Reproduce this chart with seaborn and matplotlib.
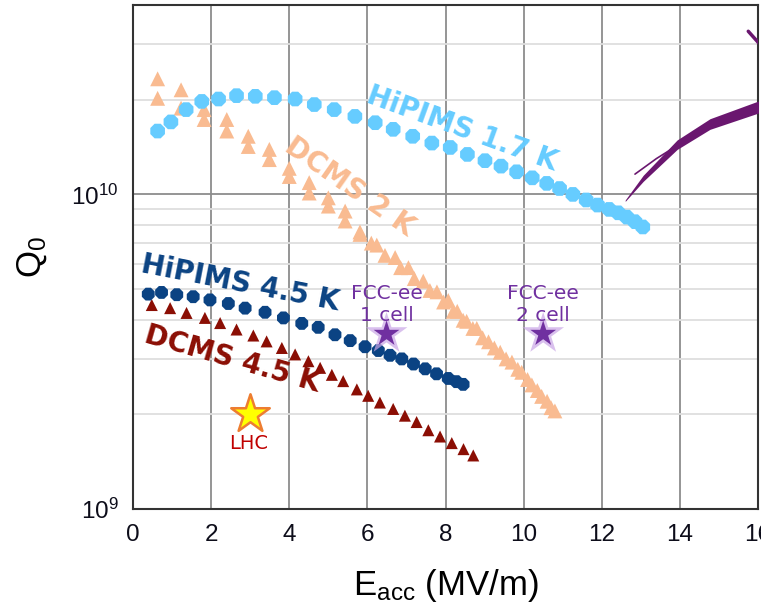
import numpy as np
import pandas as pd
import matplotlib
matplotlib.use("Agg")
import matplotlib.pyplot as plt
import seaborn as sns

# Q0 vs Eacc data
hipims17_x = [0.63, 0.97, 1.36, 1.76, 2.19, 2.65, 3.13, 3.62, 4.15, 4.64, 5.15, 5.68, 6.20, 6.66,
              7.16, 7.65, 8.12, 8.56, 9.01, 9.42, 9.82, 10.22, 10.59, 10.92, 11.26, 11.60, 11.89,
              12.19, 12.42, 12.64, 12.85, 13.05]
hipims17_q = [1.59e10, 1.70e10, 1.86e10, 1.975e10, 2.01e10, 2.06e10, 2.05e10, 2.03e10, 2.01e10,
              1.93e10, 1.86e10, 1.77e10, 1.69e10, 1.61e10, 1.53e10, 1.456e10, 1.41e10, 1.34e10,
              1.28e10, 1.23e10, 1.18e10, 1.129e10, 1.084e10, 1.044e10, 1.00e10, 9.6e9, 9.25e9,
              8.96e9, 8.74e9, 8.47e9, 8.19e9, 7.88e9]

dcms2_x_up = [0.63, 1.23, 1.82, 2.40, 2.95, 3.49, 4.00, 4.51, 5.00, 5.43, 5.81, 6.24, 6.71, 7.05,
              7.43, 7.78, 8.07, 8.30, 8.54, 8.80, 9.10, 9.40, 9.70, 9.95, 10.21, 10.46, 10.70]
dcms2_q_up = [2.33e10, 2.15e10, 1.86e10, 1.73e10, 1.53e10, 1.39e10, 1.21e10, 1.09e10, 9.75e9,
              8.85e9, 7.6e9, 6.9e9, 6.3e9, 5.85e9, 5.3e9, 4.9e9, 4.6e9, 4.25e9, 3.95e9, 3.75e9,
              3.4e9, 3.15e9, 2.93e9, 2.72e9, 2.48e9, 2.28e9, 2.1e9]
dcms2_x_dn = [0.63, 1.23, 1.82, 2.40, 2.95, 3.49, 4.00, 4.51, 5.00, 5.43, 5.81, 6.10, 6.45, 6.85,
              7.20, 7.60, 7.95, 8.20, 8.45, 8.70, 8.95, 9.25, 9.55, 9.85, 10.10, 10.35, 10.60, 10.80]
dcms2_q_dn = [2.02e10, 1.88e10, 1.73e10, 1.59e10, 1.42e10, 1.29e10, 1.14e10, 1.01e10, 9.18e9,
              8.23e9, 7.46e9, 7.0e9, 6.4e9, 5.85e9, 5.4e9, 4.95e9, 4.55e9, 4.25e9, 3.98e9, 3.75e9,
              3.5e9, 3.25e9, 3.0e9, 2.78e9, 2.58e9, 2.38e9, 2.2e9, 2.05e9]

hipims45_x = [0.39, 0.73, 1.12, 1.54, 1.97, 2.44, 2.87, 3.38, 3.85, 4.32, 4.74, 5.17, 5.56, 5.94,
              6.28, 6.58, 6.88, 7.18, 7.48, 7.77, 8.07, 8.28, 8.45]
hipims45_q = [4.82e9, 4.88e9, 4.80e9, 4.73e9, 4.62e9, 4.50e9, 4.35e9, 4.22e9, 4.05e9, 3.89e9,
              3.78e9, 3.58e9, 3.43e9, 3.28e9, 3.19e9, 3.08e9, 3.00e9, 2.89e9, 2.79e9, 2.69e9,
              2.60e9, 2.54e9, 2.49e9]

dcms45_x = [0.48, 0.95, 1.37, 1.84, 2.23, 2.65, 3.08, 3.42, 3.81, 4.15, 4.49, 4.79, 5.09, 5.38,
            5.73, 6.02, 6.32, 6.66, 6.96, 7.26, 7.56, 7.86, 8.16, 8.46, 8.71]
dcms45_q = [4.45e9, 4.35e9, 4.2e9, 4.05e9, 3.9e9, 3.72e9, 3.56e9, 3.41e9, 3.25e9, 3.1e9, 2.95e9,
            2.81e9, 2.67e9, 2.55e9, 2.4e9, 2.29e9, 2.18e9, 2.08e9, 1.98e9, 1.89e9, 1.78e9,
            1.70e9, 1.62e9, 1.55e9, 1.48e9]

# target points
lhc_x, lhc_q = [3.0], [2.0e9]
fcc_x = [6.49, 10.5]
fcc_q = [3.6e9, 3.6e9]
fcc_labels = ["FCC-ee\n1 cell", "FCC-ee\n2 cell"]

# purple brush stroke (decoration at right edge)
stroke_x = [12.6, 13.06, 13.93, 14.77, 16.1]
stroke_lo = [9.5e9, 1.10e10, 1.39e10, 1.61e10, 1.83e10]
stroke_hi = [9.6e9, 1.15e10, 1.49e10, 1.74e10, 2.0e10]

c_hip17 = "#66CCFF"
c_dcms2 = "#F9BB91"
c_hip45 = "#0B4383"
c_dcms45 = "#8B0E04"
c_purple = "#7030A0"

sns.set_style("white")
plt.rcParams["font.family"] = ["Liberation Sans", "DejaVu Sans"]
plt.rcParams["mathtext.fontset"] = "custom"
plt.rcParams["mathtext.rm"] = "Liberation Sans"
plt.rcParams["mathtext.it"] = "Liberation Sans:italic"
plt.rcParams["mathtext.default"] = "regular"

fig = plt.figure(figsize=(7.61, 6.08), dpi=100)
ax = fig.add_axes([0.1748, 0.1628, 0.8213, 0.829])
ax.set_yscale("log")
ax.set_xlim(0, 16)
ax.set_ylim(1e9, 4e10)

# grid
ax.grid(True, which="major", axis="x", color="#8c8c8c", lw=1.3)
ax.grid(True, which="major", axis="y", color="#8c8c8c", lw=1.3)
ax.grid(True, which="minor", axis="y", color="#dedede", lw=1.3)
ax.set_axisbelow(True)

sns.scatterplot(x=dcms45_x, y=dcms45_q, marker="^", s=75, color=c_dcms45, edgecolor="none", ax=ax, zorder=3)
sns.scatterplot(x=hipims45_x, y=hipims45_q, marker="8", s=100, color=c_hip45, edgecolor="none", ax=ax, zorder=4)
sns.scatterplot(x=dcms2_x_up, y=dcms2_q_up, marker="^", s=115, color=c_dcms2, edgecolor="none", ax=ax, zorder=3)
sns.scatterplot(x=dcms2_x_dn, y=dcms2_q_dn, marker="^", s=115, color=c_dcms2, edgecolor="none", ax=ax, zorder=3)
sns.scatterplot(x=hipims17_x, y=hipims17_q, marker="8", s=130, color=c_hip17, edgecolor="none", ax=ax, zorder=4)

# stars
ax.scatter(lhc_x, lhc_q, marker="*", s=850, color="#FFFF00", edgecolor="#ED7D31", lw=1.8, zorder=5)
ax.scatter(fcc_x, fcc_q, marker="*", s=1000, color="#C9A6E6", alpha=0.7, edgecolor="none", zorder=5)
ax.scatter(fcc_x, fcc_q, marker="*", s=380, color=c_purple, edgecolor="none", zorder=6)
ax.text(lhc_x[0] - 0.05, 1.62e9, "LHC", color="#C00000", fontsize=14, ha="center", va="center",
        family=["DejaVu Sans"])
for x, q, lab in zip(fcc_x, fcc_q, fcc_labels):
    ax.text(x, 3.85e9, lab, color=c_purple, fontsize=14.5, ha="center", va="bottom",
            linespacing=1.2, family=["DejaVu Sans"], zorder=7)

# purple brush stroke
ax.fill_between(stroke_x, stroke_lo, stroke_hi, color="#6A176F", lw=0, zorder=5)
ax.plot([12.85, 13.4, 14.2], [1.16e10, 1.30e10, 1.50e10], color="#6A176F", lw=1.2, zorder=5)
ax.plot([15.75, 16.1], [3.3e10, 2.95e10], color="#6A176F", lw=2.5, zorder=5)

# curve labels
lab_kw = dict(fontweight="bold", fontsize=20, ha="center", va="center",
              rotation_mode="anchor", family=["DejaVu Sans"], zorder=8)
ax.text(8.42, 1.62e10, "HiPIMS 1.7 K", color=c_hip17, rotation=-20, **lab_kw)
ax.text(5.53, 1.06e10, "DCMS 2 K", color=c_dcms2, rotation=-35, **lab_kw)
ax.text(2.74, 5.2e9, "HiPIMS 4.5 K", color=c_hip45, rotation=-11, **lab_kw)
ax.text(2.53, 3.0e9, "DCMS 4.5 K", color=c_dcms45, rotation=-16, **lab_kw)

# axes styling
ax.set_xticks(np.arange(0, 17, 2))
ax.set_xticks(np.arange(1, 17, 2), minor=True)
ax.tick_params(axis="both", which="major", direction="out", length=7, width=1.3,
               labelsize=17.5, colors="#222222", labelcolor="#0d0d1a")
ax.tick_params(axis="both", which="minor", direction="out", length=4, width=1.1, colors="#222222")
ax.tick_params(axis="y", which="minor", labelleft=False)
for sp in ax.spines.values():
    sp.set_color("#333333")
    sp.set_linewidth(1.5)

ax.set_xlabel("E$_{acc}$ (MV/m)", fontsize=25, color="black")
ax.set_ylabel("Q$_0$", fontsize=25, color="black")
ax.xaxis.set_label_coords(0.5, -0.115)
ax.yaxis.set_label_coords(-0.135, 0.5)

fig.savefig("out.png", dpi=100)
